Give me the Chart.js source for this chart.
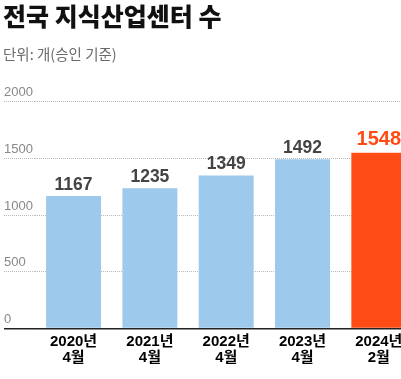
<!DOCTYPE html>
<html><head><meta charset="utf-8">
<script src="https://cdn.jsdelivr.net/npm/chart.js@4"></script>
<style>
html,body{margin:0;padding:0;background:#fff;overflow:hidden;width:401px;height:379px;}
#wrap{position:absolute;left:0;top:0;width:417px;height:379px;}
#title{position:absolute;left:3px;top:3px;font-family:'Noto Sans CJK KR',sans-serif;font-weight:900;font-size:25px;line-height:25px;color:#111;letter-spacing:0px;white-space:nowrap;}
#sub{position:absolute;left:3px;top:46px;font-family:'Noto Sans CJK KR',sans-serif;font-size:14.5px;line-height:15px;color:#6b6b6b;letter-spacing:0px;white-space:nowrap;}
</style></head>
<body>
<div id="wrap"><canvas id="c" width="417" height="379"></canvas></div>
<div id="title">전국 지식산업센터 수</div>
<div id="sub">단위: 개(승인 기준)</div>
<script>
const categories = [["2020년","4월"],["2021년","4월"],["2022년","4월"],["2023년","4월"],["2024년","2월"]];
const values = [1167, 1235, 1349, 1492, 1548];
const barColors = ["#9dc9ec","#9dc9ec","#9dc9ec","#9dc9ec","#ff4b14"];
const yTicks = [0, 500, 1000, 1500, 2000];

const valueLabels = {
  id:'valueLabels',
  afterDatasetsDraw(chart){
    const ctx = chart.ctx;
    const meta = chart.getDatasetMeta(0);
    ctx.save();
    ctx.textAlign='center';
    ctx.textBaseline='alphabetic';
    meta.data.forEach((bar,i)=>{
      const last = i===values.length-1;
      ctx.font = last ? "bold 20px 'Liberation Sans', Arial, sans-serif" : "bold 17.5px 'Liberation Sans', Arial, sans-serif";
      ctx.fillStyle = last ? "#ff4b14" : "#444";
      ctx.fillText(String(values[i]), bar.x, bar.y - (last ? 8 : 6));
    });
    ctx.restore();
  }
};

new Chart(document.getElementById('c'), {
  type:'bar',
  data:{labels:categories, datasets:[{data:values, backgroundColor:barColors, borderWidth:0, categoryPercentage:1, barPercentage:0.72}]},
  options:{
    responsive:false, animation:false,
    layout:{padding:{left:4, top:101.5, right:0, bottom:0}},
    plugins:{legend:{display:false}, tooltip:{enabled:false}},
    scales:{
      x:{
        grid:{display:false, drawTicks:false},
        border:{display:false},
        ticks:{padding:5, color:'#000', font:{family:"'Liberation Sans','Noto Sans CJK KR',sans-serif", size:15, weight:'bold', lineHeight:1.1}},
        afterFit(s){ s.height = 379 - 328.5; }
      },
      y:{
        min:0, max:2000,
        afterBuildTicks(s){ s.ticks = yTicks.map(v=>({value:v})); },
        afterFit(s){ s.width = 31.4; },
        grid:{
          drawTicks:true, tickLength:31.4,
          color:c=> c.tick && c.tick.value===0 ? '#222' : '#b8b8b8',
          tickColor:c=> c.tick && c.tick.value===0 ? '#222' : '#b8b8b8',
          lineWidth:c=> c.tick && c.tick.value===0 ? 1.5 : 1,
          tickWidth:c=> c.tick && c.tick.value===0 ? 1.5 : 1,
          tickBorderDash:c=> c.tick && c.tick.value===0 ? [] : [1,1]
        },
        border:{display:false, dash:c=> c.tick && c.tick.value===0 ? [] : [1,1]},
        ticks:{crossAlign:'far', padding:0, labelOffset:-9, color:'#888', callback:v=>String(v), font:{family:"'Liberation Sans',Arial,sans-serif", size:13}}
      }
    }
  },
  plugins:[valueLabels]
});
</script>
</body></html>
